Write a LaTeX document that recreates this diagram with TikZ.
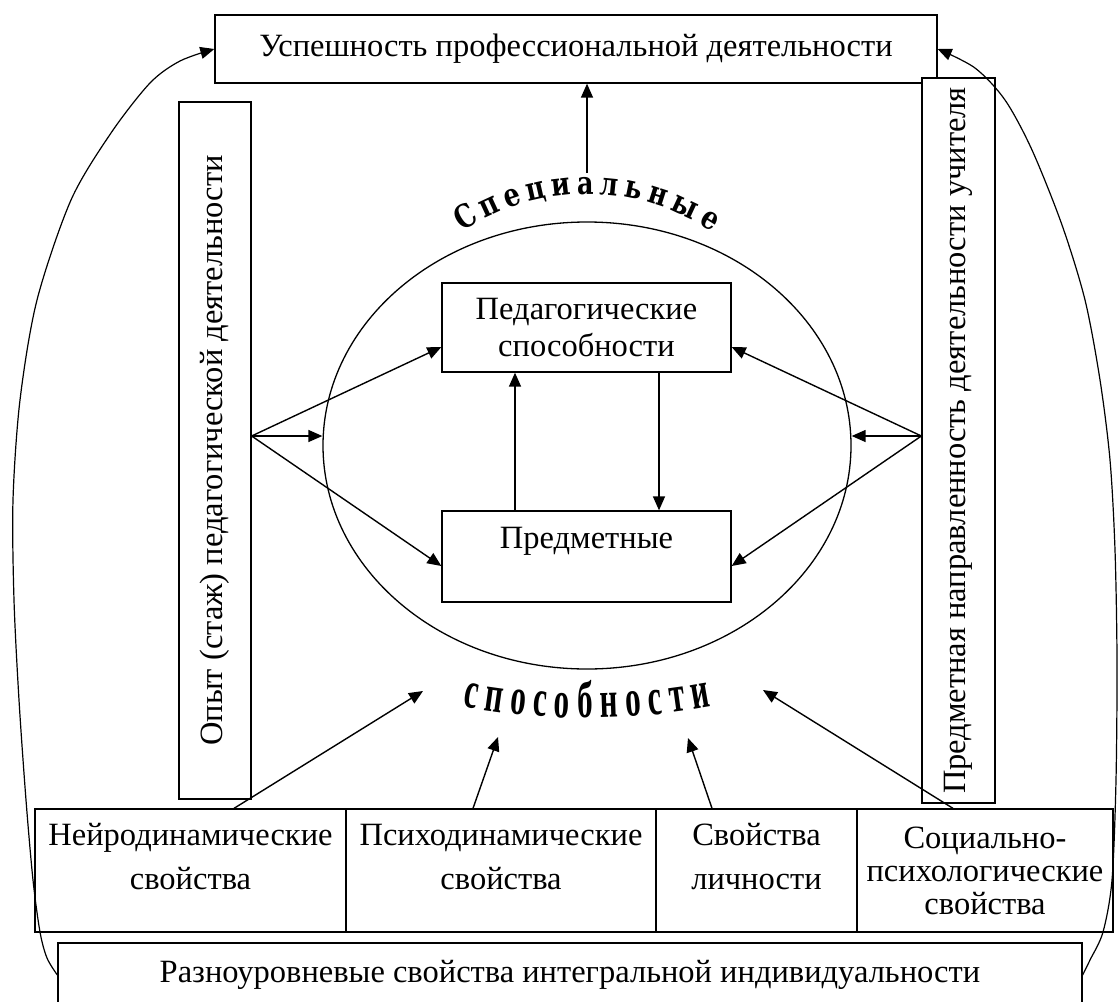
\documentclass[tikz,border=0pt]{standalone}
\usepackage{graphicx}
\usepackage{fontspec}
\setmainfont{Liberation Serif}
\newfontfamily\archfont[FakeStretch=0.8]{DejaVu Serif}
\newfontfamily\narrowfont[FakeStretch=0.6]{Liberation Serif}
\usetikzlibrary{arrows.meta, shapes.geometric, decorations.text}

\begin{document}
\begin{tikzpicture}[x=1pt, y=-1pt,
    >={Triangle[length=14pt, width=12pt]},
    box/.style={draw, line width=1.3pt, inner sep=0pt, align=center,
      font=\fontsize{32.5}{44}\selectfont},
    link/.style={->, line width=1.4pt},
    loopline/.style={->, line width=1.2pt}]
  \useasboundingbox (0,0) rectangle (1118,1001);

  \node[box, minimum width=722pt, minimum height=68pt] (success) at (576,49)
    {Успешность профессиональной деятельности};

  \node[box, minimum width=72pt, minimum height=697pt] (exper) at (215,450.5)
    {\rotatebox{90}{Опыт (стаж) педагогической деятельности}};
  \node[box, fill=white, minimum width=73pt, minimum height=725pt] (orient) at (958.5,440.5)
    {\rotatebox{90}{Предметная направленность деятельности учителя}};

  \node[draw, ellipse, line width=1.3pt, inner sep=0pt,
    minimum width=528pt, minimum height=447pt] (special) at (587,445.5) {};

  \node[box, font=\fontsize{32.5}{37}\selectfont, minimum width=289pt, minimum height=89pt]
    (pedag) at (586.5,327.5) {Педагогические\\способности};
  \node[box, font=\fontsize{32.5}{37}\selectfont, minimum width=289pt, minimum height=91pt]
    (subj) at (586.5,556.5) {Предметные\\\rule{0pt}{0pt}};

  % arc titles round the ellipse
  \path[decorate, decoration={text along path, text align={fit to path},
      text={|\archfont\bfseries\fontsize{32}{32}\selectfont|Специальные}}]
    (462.3,232.1) arc[start angle=124, end angle=56, radius=223pt];
  \path[decorate, decoration={text along path, text align={fit to path},
      text={|\narrowfont\bfseries\fontsize{52}{52}\selectfont|способности}}]
    (462.4,706.3) arc[start angle=-100.7, end angle=-79.3, radius=671pt];

  % bottom row of properties
  \node[box, minimum width=311pt, minimum height=123pt] (neuro) at (190.5,870.5)
    {Нейродинамические\\свойства\\[-16pt]\rule{0pt}{0pt}};
  \node[box, minimum width=310pt, minimum height=123pt] (psydyn) at (501,870.5)
    {Психодинамические\\свойства\\[-16pt]\rule{0pt}{0pt}};
  \node[box, minimum width=201pt, minimum height=123pt] (person) at (756.5,870.5)
    {Свойства\\личности\\[-16pt]\rule{0pt}{0pt}};
  \node[box, font=\fontsize{32.5}{33}\selectfont, minimum width=256pt, minimum height=123pt]
    (social) at (985,870.5) {Социально-\\психологические\\свойства};

  \node[box, minimum width=1024pt, minimum height=64pt] (integ) at (570,975)
    {Разноуровневые свойства интегральной индивидуальности};

  \coordinate (spectop) at (587,173);
  \coordinate (expout) at (exper.east |- 0,436);
  \coordinate (oriout) at (orient.west |- 0,436);
  \coordinate (neurotip) at (423,691);
  \coordinate (psytip) at (498,737);
  \coordinate (perstip) at (688,738);
  \coordinate (soctip) at (763,690);

  \draw[link] (spectop) -- (spectop |- success.south);

  \draw[link] (expout) -- (pedag.west |- 0,347);
  \draw[link] (expout) -- (special.west |- expout);
  \draw[link] (expout) -- (subj.west |- 0,566);

  \draw[link] (oriout) -- (pedag.east |- 0,347);
  \draw[link] (oriout) -- (special.east |- oriout);
  \draw[link] (oriout) -- (subj.east |- 0,566);

  \draw[link] (subj.north -| 515,0) -- (pedag.south -| 515,0);
  \draw[link] (pedag.south -| 659,0) -- (subj.north -| 659,0);

  \draw[link] (neuro.north -| 234,0) -- (neurotip);
  \draw[link] (psydyn.north -| 473,0) -- (psytip);
  \draw[link] (person.north -| 712,0) -- (perstip);
  \draw[link] (social.north -| 953,0) -- (soctip);

  \draw[loopline] plot[smooth] coordinates {(integ.west) (47,958) (40,932) (33,880)
    (26,800) (19,700) (14,600) (13,500) (20,400) (37,300) (71,200) (111,133)
    (150,83) (180,61) (success.west)};
  \draw[loopline] plot[smooth] coordinates {(integ.east) (1090,960) (1103,932)
    (1112,880) (1116,780) (1117,660) (1115,550) (1110,460) (1100,380) (1085,300)
    (1062,225) (1032,150) (1005,100) (975,68) (success.east)};
\end{tikzpicture}
\end{document}
